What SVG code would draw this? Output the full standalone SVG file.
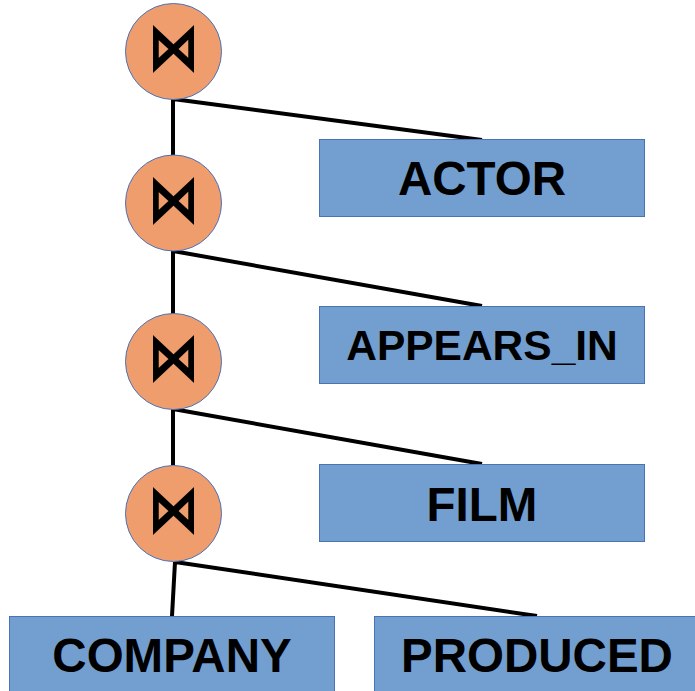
<svg xmlns="http://www.w3.org/2000/svg" width="695" height="691" viewBox="0 0 695 691">
<style>
.j{fill:#F09D6E;stroke:#4A72B8;stroke-width:1}
.s{font-family:"DejaVu Sans",sans-serif;font-size:50px;fill:#000;stroke:#000;stroke-width:1.6;text-anchor:middle}
.b{fill:#729FCF;stroke:#4A72B8;stroke-width:1}
.t{font-family:"Liberation Sans",Arial,sans-serif;font-weight:bold;font-size:47.5px;fill:#000;text-anchor:middle}
.c{stroke:#000;stroke-width:4;fill:none}
</style>
<rect width="695" height="691" fill="#fff"/>
<g id="connectors">
<path class="c" d="M173,99 L173,155 M173,99 L482,140"/>
<path class="c" d="M173,251 L173,314 M173,251 L482,306"/>
<path class="c" d="M173,409 L173,465 M173,409 L482,464"/>
<path class="c" d="M175,562 L172,616 M175,562 L537,616"/>
</g>
<g id="join1"><circle class="j" cx="173.5" cy="51.5" r="48"/><text class="s" transform="translate(173.5,49.5) scale(1,1.28)" y="15.6">⋈</text></g>
<g id="join2"><circle class="j" cx="173.5" cy="203" r="48"/><text class="s" transform="translate(173.5,201) scale(1,1.28)" y="15.6">⋈</text></g>
<g id="join3"><circle class="j" cx="173.5" cy="361.5" r="48"/><text class="s" transform="translate(173.5,359.5) scale(1,1.28)" y="15.6">⋈</text></g>
<g id="join4"><circle class="j" cx="173.5" cy="513.5" r="48"/><text class="s" transform="translate(173.5,511.5) scale(1,1.28)" y="15.6">⋈</text></g>
<g id="actor"><rect class="b" x="319.5" y="139.5" width="325" height="77"/><text class="t" x="482" y="195">ACTOR</text></g>
<g id="appears_in"><rect class="b" x="319.5" y="306.5" width="325" height="77"/><text class="t" x="482" y="360" style="font-size:42.5px">APPEARS_IN</text></g>
<g id="film"><rect class="b" x="319.5" y="464.5" width="325" height="77"/><text class="t" x="482" y="520.5">FILM</text></g>
<g id="company"><rect class="b" x="9.5" y="616.5" width="325" height="77"/><text class="t" x="172" y="672">COMPANY</text></g>
<g id="produced"><rect class="b" x="374.5" y="616.5" width="325" height="77"/><text class="t" x="537" y="672">PRODUCED</text></g>
</svg>
